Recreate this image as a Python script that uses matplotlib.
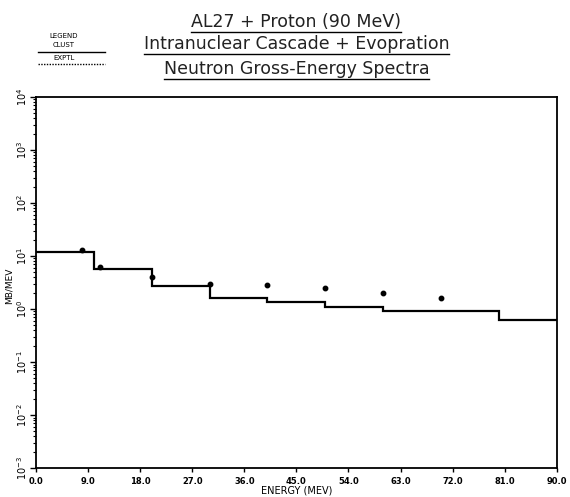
import matplotlib
matplotlib.use('Agg')
import matplotlib.pyplot as plt
from matplotlib.lines import Line2D
import numpy as np

# Calculated (cluster) histogram: bin edges and values
bin_edges = [0, 10, 20, 30, 40, 50, 60, 80, 90]
clust_values = [11.9, 5.6, 2.7, 1.6, 1.34, 1.11, 0.92, 0.62]

# Experimental points
expt_energy = [8, 11, 20, 30, 40, 50, 60, 70]
expt_values = [13.0, 6.1, 4.0, 3.0, 2.8, 2.5, 1.98, 1.63]

x_ticks = [0, 9, 18, 27, 36, 45, 54, 63, 72, 81, 90]
x_ticklabels = ['0.0', '9.0', '18.0', '27.0', '36.0', '45.0', '54.0', '63.0', '72.0', '81.0', '90.0']
y_ticks = [1e-3, 1e-2, 1e-1, 1e0, 1e1, 1e2, 1e3, 1e4]
y_ticklabels = ['$10^{-3}$', '$10^{-2}$', '$10^{-1}$', '$10^{0}$', '$10^{1}$', '$10^{2}$', '$10^{3}$', '$10^{4}$']

title_lines = ['AL27 + Proton (90 MeV)',
               'Intranuclear Cascade + Evopration',
               'Neutron Gross-Energy Spectra']

fig = plt.figure(figsize=(5.7, 4.97), dpi=100)
ax = fig.add_axes([0.063, 0.058, 0.914, 0.747])

ax.stairs(clust_values, bin_edges, color='black', linewidth=1.6, baseline=None)
ax.plot(expt_energy, expt_values, 'o', color='black', markersize=3.2)

ax.set_yscale('log')
ax.set_xlim(0, 90)
ax.set_ylim(1e-3, 1e4)
ax.set_xticks(x_ticks)
ax.set_xticklabels(x_ticklabels, fontsize=6, fontweight='bold')
ax.set_yticks(y_ticks)
ax.set_yticklabels(y_ticklabels, fontsize=7, rotation=90, va='center')
ax.yaxis.set_minor_locator(matplotlib.ticker.LogLocator(base=10, subs=np.arange(2, 10)))
ax.yaxis.set_minor_formatter(matplotlib.ticker.NullFormatter())
ax.tick_params(axis='y', which='major', length=4, width=1, pad=1)
ax.tick_params(axis='y', which='minor', length=2, width=0.8)
ax.tick_params(axis='x', which='major', length=3, width=1, pad=3)
for sp in ax.spines.values():
    sp.set_linewidth(1.3)

ax.set_xlabel('ENERGY (MEV)', fontsize=7, labelpad=0)
ax.set_ylabel('MB/MEV', fontsize=6.5, labelpad=0)
ax.yaxis.set_label_coords(-0.042, 0.49)

# Title block with underlines
title_y = [0.955, 0.911, 0.861]
title_texts = []
for line, ty in zip(title_lines, title_y):
    t = fig.text(0.52, ty, line, ha='center', va='center', fontsize=12.5,
                 color='#222222')
    title_texts.append(t)

# Legend block
fig.text(0.112, 0.928, 'LEGEND', ha='center', va='center', fontsize=5)
fig.text(0.112, 0.909, 'CLUST', ha='center', va='center', fontsize=5)
fig.add_artist(Line2D([0.067, 0.184], [0.895, 0.895], color='black', linewidth=1.0,
                      transform=fig.transFigure))
fig.text(0.112, 0.883, 'EXPTL', ha='center', va='center', fontsize=5)
fig.add_artist(Line2D([0.067, 0.184], [0.871, 0.871], color='black', linewidth=1.0,
                      linestyle=(0, (1, 1)), transform=fig.transFigure))

fig.canvas.draw()
renderer = fig.canvas.get_renderer()
inv = fig.transFigure.inverted()
for t in title_texts:
    bb = t.get_window_extent(renderer)
    (x0, y0), (x1, y1) = inv.transform([(bb.x0, bb.y0), (bb.x1, bb.y1)])
    fig.add_artist(Line2D([x0, x1], [y0 - 0.002, y0 - 0.002], color='black',
                          linewidth=1.0, transform=fig.transFigure))

fig.savefig('out.png', dpi=100)
plt.close()
